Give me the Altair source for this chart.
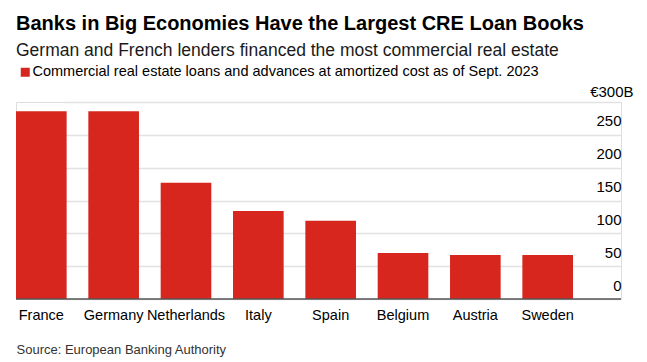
import altair as alt
import pandas as pd

countries = ["France", "Germany", "Netherlands", "Italy", "Spain", "Belgium", "Austria", "Sweden"]
loans = [286, 286, 177, 134, 119, 70, 67, 67]
series_label = "Commercial real estate loans and advances at amortized cost as of Sept. 2023"
y_ticks = [0, 50, 100, 150, 200, 250, 300]
baseline_value = [0]

title_text = "Banks in Big Economies Have the Largest CRE Loan Books"
subtitle_text = "German and French lenders financed the most commercial real estate"
source_text = "Source: European Banking Authority"

RED = "#d7261e"
FONT = "Liberation Sans"

df = pd.DataFrame({"country": countries, "loans": loans, "series": [series_label] * len(countries)})
base_df = pd.DataFrame({"loans": baseline_value})

y_scale = alt.Scale(domain=[0, 300], nice=False)
y_axis = alt.Axis(
    orient="right", values=y_ticks, tickCount=7, grid=True, gridColor="#e2e2e2", gridWidth=1.5,
    domain=False, ticks=False, tickSize=0,
    labelAlign="right", labelBaseline="alphabetic",
    labelPadding={"condition": {"test": "datum.value == 300", "value": 12}, "value": 0},
    labelOffset={"condition": {"test": "datum.value == 300", "value": -5.5}, "value": -9},
    labelExpr="datum.value == 300 ? '€300B' : datum.label",
    labelFont=FONT, labelFontSize=15, labelColor="#000", labelOverlap=False,
    title=None,
)

bars = alt.Chart(df).mark_bar().encode(
    x=alt.X(
        "country:N",
        sort=countries,
        scale=alt.Scale(range=[0, 557], paddingInner=0.3, paddingOuter=0),
        axis=alt.Axis(
            domain=False, ticks=False, tickSize=0, grid=False,
            labelAngle=0, labelAlign="center", labelBaseline="alphabetic",
            labelPadding=20, labelFont=FONT, labelFontSize=14.5, labelColor="#000",
            labelOverlap=False, labelLimit=0,
            title=source_text, titleX=0, titleY=54.7, titleAlign="left",
            titleBaseline="alphabetic", titleFont=FONT, titleFontSize=13,
            titleFontWeight="normal", titleColor="#333",
        ),
    ),
    y=alt.Y("loans:Q", scale=y_scale, axis=y_axis),
    color=alt.Color(
        "series:N",
        scale=alt.Scale(domain=[series_label], range=[RED]),
        legend=alt.Legend(
            title=None, orient="none", legendX=2, legendY=-37,
            symbolType="square", symbolSize=81, symbolStrokeWidth=0,
            labelFont=FONT, labelFontSize=14.5, labelColor="#000",
            labelOffset=0, labelLimit=0,
        ),
    ),
)

baseline = alt.Chart(base_df).mark_rule(color="#555", strokeWidth=1.5).encode(
    y=alt.Y("loans:Q", scale=y_scale, axis=y_axis)
)

chart = alt.layer(bars, baseline).properties(
    width=605,
    height=197,
    autosize=alt.AutoSizeParams(type="none"),
    padding={"left": 8, "top": 94, "right": 18, "bottom": 62},
    title=alt.Title(
        title_text, subtitle=subtitle_text, anchor="start", frame="group",
        font=FONT, fontSize=20, fontWeight="bold", color="#000",
        subtitleFont=FONT, subtitleFontSize=17.5, subtitleColor="#1a1a1a",
        subtitlePadding=8, offset=6,
    ),
).configure_view(stroke=None).configure(background="white")

chart.save("out.html", embed_options={"renderer": "svg", "actions": False})
